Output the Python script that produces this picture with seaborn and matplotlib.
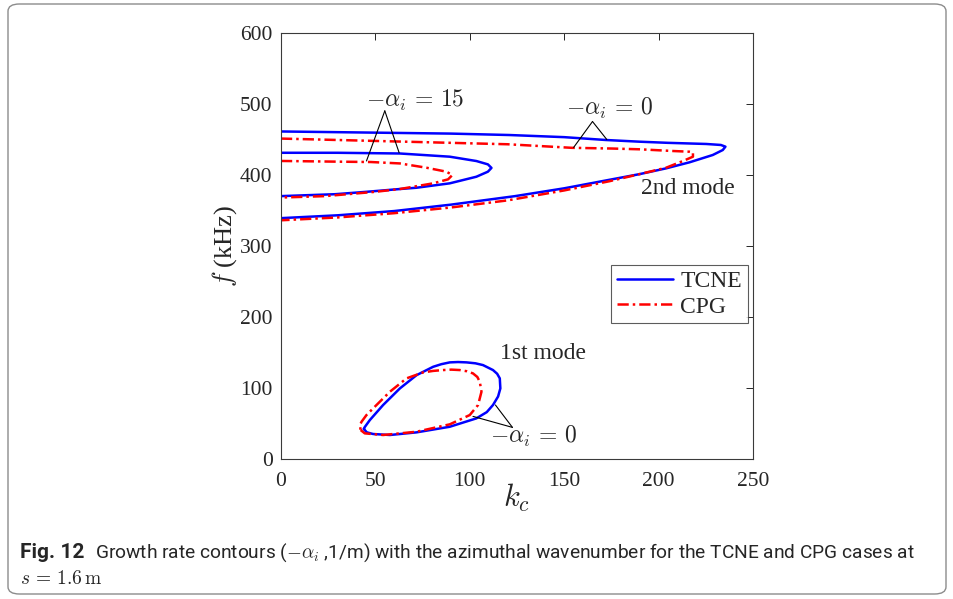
import matplotlib
matplotlib.use('Agg')
import matplotlib.pyplot as plt
from matplotlib.lines import Line2D
from matplotlib.patches import FancyBboxPatch
import seaborn as sns
import pandas as pd

# 2nd mode, -alpha_i = 0 (outer contours)
tcne_outer_k = [0, 30, 60, 90, 121, 150, 172, 190, 205, 225.2, 233, 235.4, 234, 228.7, 216.4, 204, 190, 174, 150, 124, 90, 60, 30, 0]
tcne_outer_f = [461, 460, 459, 458, 456, 453, 449, 446.6, 445, 443.4, 442, 439.6, 434.9, 427.9, 417.6, 409.1, 401, 393, 381, 370, 358, 349, 343, 339]
cpg_outer_k = [0, 30, 60, 90, 120, 154, 175, 190, 207.6, 216.4, 218.2, 218.2, 212.9, 204, 190, 174, 150, 120, 90, 60, 30, 0]
cpg_outer_f = [451, 449, 447, 445, 443, 438, 437, 435.9, 433.5, 432.5, 431.6, 425.5, 419.4, 410, 401, 391, 378, 364, 354, 346, 340, 336]

# 2nd mode, -alpha_i = 15 (inner contours)
tcne_inner_k = [0, 30, 63, 89.4, 103.5, 109.6, 111.5, 109.6, 103.5, 89.4, 71.8, 63, 45, 28.6, 0]
tcne_inner_f = [431, 431, 430, 425.5, 419.4, 414.7, 409.7, 404.4, 397.3, 388, 381.8, 380, 376, 372.7, 370]
cpg_inner_k = [0, 30, 47.6, 63, 77, 87.6, 90.8, 88.5, 80.6, 63, 49.7, 23.3, 0]
cpg_inner_f = [419.5, 418.5, 418, 416, 410, 404.4, 399.7, 393.6, 388, 380, 376, 370, 368]

# 1st mode, -alpha_i = 0 (closed loops)
tcne_first_k = [43.9, 45.5, 48.8, 57.7, 71.8, 89.4, 103.5, 109, 112.3, 115, 116.2, 115.9, 114.5, 112.3, 107, 103, 98.3, 93.8, 89.4, 85, 80.6, 71.8, 63, 54.1, 47.1, 44.4, 43.9]
tcne_first_f = [42.2, 37.5, 35.2, 33.8, 37.5, 45.4, 57.2, 66, 76, 88, 99.4, 113.5, 120, 125.2, 132.2, 134.7, 136, 136.5, 136, 133.5, 129.8, 118, 99.4, 76, 54.9, 45, 42.2]
cpg_first_k = [42.2, 44.4, 54.1, 71.8, 89.4, 100, 104.4, 106.2, 105.3, 104, 101.7, 98.5, 94.7, 90.3, 85.9, 80.6, 75.3, 66.5, 57.7, 50.6, 45.3, 42.7, 41.8, 42.2]
cpg_first_f = [40.8, 36.1, 33.8, 38.4, 48.8, 61.9, 76, 94.7, 108.7, 115.5, 120.5, 123.5, 125.2, 125.8, 125.2, 124, 121.9, 113.5, 94.7, 76, 61.9, 52.5, 47.8, 40.8]

x_ticks = [0, 50, 100, 150, 200, 250]
y_ticks = [0, 100, 200, 300, 400, 500, 600]

BLUE = '#0000ff'
RED = '#ff0000'
DASHDOT = (4.5, 1.6, 1.0, 1.6)

sns.set_theme(style='white')
plt.rcParams['font.family'] = ['Liberation Serif', 'DejaVu Serif']
plt.rcParams['mathtext.fontset'] = 'cm'

fig = plt.figure(figsize=(9.54, 5.99), dpi=100)
ax = fig.add_axes([0.2945, 0.2337, 0.4948, 0.7117])


def draw(k, f, color, dashed):
    df = pd.DataFrame({'k': k, 'f': f})
    sns.lineplot(data=df, x='k', y='f', sort=False, estimator=None,
                 color=color, lw=1.8, ax=ax, legend=False)
    line = ax.lines[-1]
    line.set_solid_joinstyle('round')
    if dashed:
        line.set_dashes(DASHDOT)


draw(tcne_outer_k, tcne_outer_f, BLUE, False)
draw(cpg_outer_k, cpg_outer_f, RED, True)
draw(tcne_inner_k, tcne_inner_f, BLUE, False)
draw(cpg_inner_k, cpg_inner_f, RED, True)
draw(tcne_first_k, tcne_first_f, BLUE, False)
draw(cpg_first_k, cpg_first_f, RED, True)

ax.set_xlim(0, 250)
ax.set_ylim(0, 600)
ax.set_xticks(x_ticks)
ax.set_yticks(y_ticks)
ax.tick_params(direction='in', top=True, right=True, length=5, width=0.7,
               labelsize=15.5, colors='#262626', pad=6)
ax.tick_params(axis='x', pad=9)
for s in ax.spines.values():
    s.set_color('#3a3a3a')
    s.set_linewidth(0.8)
ax.set_xlabel(r'$k_c$', fontsize=22, labelpad=-6)
ax.set_ylabel(r'$f$ (kHz)', fontsize=19, labelpad=1)

# annotations
line_kw = dict(arrowstyle='-', color='black', lw=0.8, shrinkA=0, shrinkB=0)
ax.text(71, 505, r'$-\alpha_i\,=\,15$', fontsize=17, ha='center', va='center')
for pt in [(45.3, 419.5), (62.6, 431)]:
    ax.annotate('', xy=pt, xytext=(55, 490), arrowprops=line_kw)
ax.text(174, 494, r'$-\alpha_i\,=\,0$', fontsize=17, ha='center', va='center')
for pt in [(155, 438.5), (172.6, 449.6)]:
    ax.annotate('', xy=pt, xytext=(165, 475), arrowprops=line_kw)
ax.text(134, 31, r'$-\alpha_i\,=\,0$', fontsize=17, ha='center', va='center')
for pt in [(113.6, 76), (101.7, 60)]:
    ax.annotate('', xy=pt, xytext=(122.6, 44.5), arrowprops=line_kw)
ax.text(190.5, 381, '2nd mode', fontsize=17, ha='left', va='center')
ax.text(116, 148, '1st mode', fontsize=17, ha='left', va='center')

handles = [Line2D([], [], color=BLUE, lw=1.8),
           Line2D([], [], color=RED, lw=1.8, dashes=DASHDOT)]
leg = ax.legend(handles, ['TCNE', 'CPG'], loc='upper right',
                bbox_to_anchor=(0.989, 0.455), fontsize=17, frameon=True,
                fancybox=False, handlelength=2.4, handletextpad=0.3,
                borderpad=0.25, labelspacing=0.15, borderaxespad=0)
leg.get_frame().set_edgecolor('#333333')
leg.get_frame().set_linewidth(0.8)

# outer frame and caption
frame = FancyBboxPatch((8 / 954, 5 / 599), 938 / 954, 590 / 599,
                       boxstyle='round,pad=0,rounding_size=0.012',
                       transform=fig.transFigure, fill=False,
                       edgecolor='#8c8c8c', lw=1.0)
fig.patches.append(frame)

cap_font = ['Roboto', 'DejaVu Sans']
fig.text(20 / 954, 1 - 553 / 599, 'Fig. 12', fontsize=15, weight='bold',
         family=cap_font, va='center', ha='left')
fig.text(95 / 954, 1 - 553 / 599,
         r'Growth rate contours ($-\alpha_i$ ,1/m) with the azimuthal wavenumber for the TCNE and CPG cases at',
         fontsize=13.8, family=cap_font, va='center', ha='left')
fig.text(20 / 954, 1 - 579 / 599, r'$s\,=\,1.6\,\mathrm{m}$', fontsize=14,
         family=cap_font, va='center', ha='left')

fig.savefig('out.png', dpi=100)
plt.close(fig)
